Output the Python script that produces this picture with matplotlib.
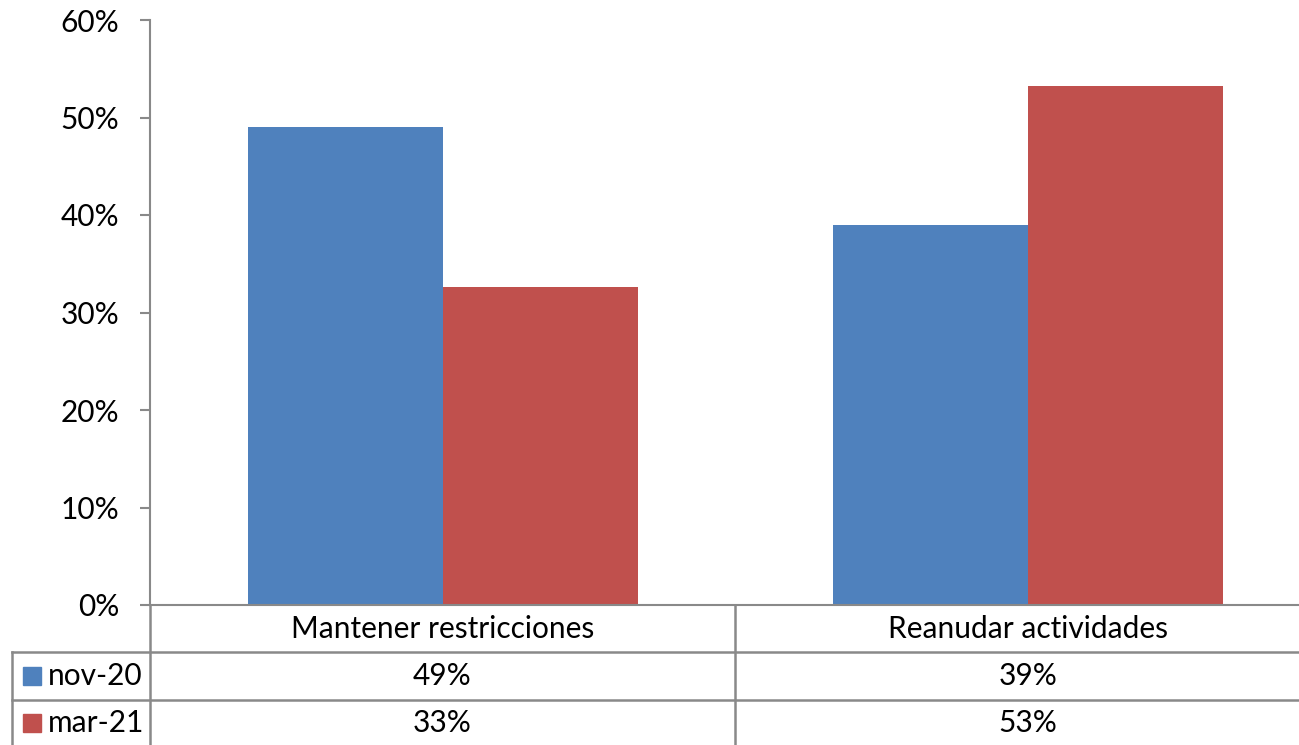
import matplotlib
matplotlib.use('Agg')
import matplotlib.pyplot as plt
from matplotlib.lines import Line2D
from matplotlib.patches import Rectangle

# chart data
categories = ['Mantener restricciones', 'Reanudar actividades']
series_names = ['nov-20', 'mar-21']
nov20 = [0.49, 0.39]
mar21 = [0.326, 0.532]
series_values = [nov20, mar21]
series_colors = ['#4F81BD', '#C0504D']
yticks = [0, 0.1, 0.2, 0.3, 0.4, 0.5, 0.6]

W, H = 1299, 745
dpi_choice = 100
font = 'Lato'
fs = 21.5
grey = '#898989'

fig = plt.figure(figsize=(W / dpi_choice, H / dpi_choice), dpi=dpi_choice)

# plot area runs a bit past the right edge, like the original export
ax = fig.add_axes([150 / W, 1 - 605 / H, (1321 - 150) / W, (605 - 20) / H])
bar_w = 1 / 3
x = [i + 0.5 for i in range(len(categories))]
for k, vals in enumerate(series_values):
    xs = [xi - bar_w + k * bar_w for xi in x]
    ax.bar(xs, vals, width=bar_w, align='edge', color=series_colors[k],
           edgecolor='none', zorder=2)

ax.set_xlim(0, len(categories))
ax.set_ylim(0, 0.6)
ax.set_yticks(yticks)
ax.set_yticklabels([f"{int(round(t * 100))}%" for t in yticks],
                   fontsize=fs, fontfamily=font)
ax.set_xticks([])
ax.tick_params(axis='y', direction='out', length=7, width=1.5, color=grey, pad=15)
for s in ['top', 'right']:
    ax.spines[s].set_visible(False)
for s in ['left', 'bottom']:
    ax.spines[s].set_color(grey)
    ax.spines[s].set_linewidth(1.5)

# data table below the chart, drawn in pixel coordinates
tab = fig.add_axes([0, 0, 1, 1], zorder=5)
tab.set_xlim(0, W)
tab.set_ylim(H, 0)
tab.axis('off')
tab.patch.set_alpha(0)

col_x = [150, 735, 1321]
row_y = [605, 652, 700, 745]
lw = 1.8
for yy in row_y[1:3]:
    tab.add_line(Line2D([12, W], [yy, yy], color=grey, lw=lw))
for xx in col_x[:2]:
    tab.add_line(Line2D([xx, xx], [row_y[0], H], color=grey, lw=lw))
tab.add_line(Line2D([12, 12], [row_y[1], H], color=grey, lw=lw))

for j, cat in enumerate(categories):
    cx = (col_x[j] + col_x[j + 1]) / 2
    tab.text(cx, (row_y[0] + row_y[1]) / 2, cat, ha='center', va='center',
             fontsize=fs, fontfamily=font)
    for k, vals in enumerate(series_values):
        cy = (row_y[k + 1] + row_y[k + 2]) / 2
        tab.text(cx, cy, f"{int(vals[j] * 100 + 0.5)}%", ha='center', va='center',
                 fontsize=fs, fontfamily=font)

for k, name in enumerate(series_names):
    cy = (row_y[k + 1] + row_y[k + 2]) / 2
    tab.add_patch(Rectangle((23, cy - 9), 18, 18, color=series_colors[k]))
    tab.text(48, cy, name, ha='left', va='center', fontsize=fs, fontfamily=font)

plt.savefig('out.png', dpi=dpi_choice)
